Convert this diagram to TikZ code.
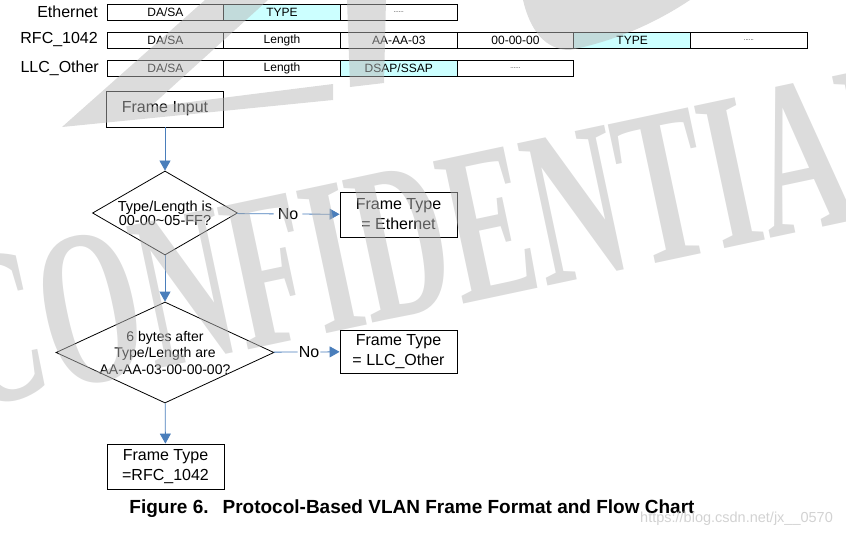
\documentclass[tikz,border=0pt]{standalone}
\usepackage{fontspec}
\setmainfont{Liberation Sans}
\newfontfamily\wmfont{Liberation Serif}
\usepackage{xcolor}
\definecolor{flowblue}{HTML}{4A7EBB}
\definecolor{fieldcyan}{HTML}{CCFFFF}
\definecolor{wmgray}{RGB}{185,185,185}
\definecolor{urlgray}{HTML}{D2D2D2}
\usetikzlibrary{shapes.geometric, arrows.meta, positioning}

\begin{document}
\begin{tikzpicture}[x=1pt, y=-1pt,
  cell/.style={rectangle, draw=black, line width=0.8pt,
    minimum width=116.7pt, minimum height=16pt, inner sep=0pt, outer sep=0pt,
    font=\fontsize{12}{12}\selectfont},
  typecell/.style={cell, fill=fieldcyan},
  rowlabel/.style={anchor=east, inner sep=0pt, font=\fontsize{16}{18}\selectfont},
  flowbox/.style={rectangle, draw=black, line width=0.8pt,
    minimum width=117pt, align=center, inner sep=0pt,
    font=\fontsize{16}{20}\selectfont},
  decision/.style={diamond, draw=black, line width=0.8pt, align=center,
    inner sep=0pt},
  flow/.style={draw=flowblue, line width=0.8pt},
  flowarrow/.style={flow, -{Triangle[length=10pt, width=11pt]}},
  watermark/.style={fill=wmgray, fill opacity=0.5, draw=none},
]
  \useasboundingbox (0,0) rectangle (846,538);

  % Frame formats
  \node[rowlabel] (ethlbl) at (98,12) {Ethernet};
  \node[cell, anchor=west] (eth1) at (107,12) {DA/SA};
  \node[typecell, right=0pt of eth1] (eth2) {TYPE};
  \node[cell, right=0pt of eth2] (eth3) {\fontsize{6}{6}\selectfont ......};

  \node[rowlabel] (rfclbl) at (98,40) {RFC\_1042};
  \node[cell, anchor=west] (rfc1) at (107,40) {DA/SA};
  \node[cell, right=0pt of rfc1] (rfc2) {Length};
  \node[cell, right=0pt of rfc2] (rfc3) {AA-AA-03};
  \node[cell, right=0pt of rfc3] (rfc4) {00-00-00};
  \node[typecell, right=0pt of rfc4] (rfc5) {TYPE};
  \node[cell, right=0pt of rfc5] (rfc6) {\fontsize{6}{6}\selectfont ......};

  \node[rowlabel] (llclbl) at (99,68) {LLC\_Other};
  \node[cell, anchor=west] (llc1) at (107,68) {DA/SA};
  \node[cell, right=0pt of llc1] (llc2) {Length};
  \node[typecell, right=0pt of llc2] (llc3) {DSAP/SSAP};
  \node[cell, right=0pt of llc3] (llc4) {\fontsize{6}{6}\selectfont ......};

  % Flow chart
  \node[flowbox, minimum height=36pt] (input) at (165,109) {Frame Input};
  \node[decision, aspect=1.73, minimum width=145pt, minimum height=84pt,
    font=\fontsize{14.5}{14}\selectfont] (lentest)
    at (165,213) {Type/Length is\\00-00\~{}05-FF?};
  \node[inner xsep=4pt, inner ysep=0pt, font=\fontsize{16}{18}\selectfont] (no1)
    at (288,214) {No};
  \node[flowbox, minimum height=45pt] (ethtype) at (398.5,214.5)
    {Frame Type\\= Ethernet};

  \node[decision, aspect=2.16, minimum width=218pt, minimum height=101pt,
    inner xsep=-6pt, font=\fontsize{14}{16.5}\selectfont] (snaptest)
    at (165,352.5) {6 bytes after\\Type/Length are\\AA-AA-03-00-00-00?};
  \node[inner xsep=1pt, inner ysep=0pt, font=\fontsize{16}{18}\selectfont] (no2)
    at (309,352) {No};
  \node[flowbox, minimum height=43pt] (llctype) at (398.5,351.5)
    {Frame Type\\= LLC\_Other};

  \node[flowbox, minimum height=45pt] (rfctype) at (165.5,466.5)
    {Frame Type\\=RFC\_1042};

  \draw[flowarrow] (input) -- (lentest);
  \draw[flow] (lentest) -- (no1);
  \draw[flowarrow] (no1) -- (ethtype);
  \draw[flowarrow] (lentest) -- (snaptest);
  \draw[flow] (snaptest) -- (no2);
  \draw[flowarrow] (no2) -- (llctype);
  \draw[flowarrow] (snaptest) -- (rfctype);

  % Caption
  \node[font=\bfseries\fontsize{19}{20}\selectfont] (caption) at (412,509)
    {Figure 6.\hspace{14pt}Protocol-Based VLAN Frame Format and Flow Chart};
  \node[anchor=west, inner sep=0pt, text=urlgray, font=\fontsize{14.5}{14}\selectfont]
    (url) at (640,519) {https://blog.csdn.net/jx\_\_0570};

  % Watermark
  \fill[watermark] (62,127) -- (205,0) -- (268,0) -- (150,107)
    -- (333,84) -- (333,100) -- cycle;
  \fill[watermark] (347,0) -- (386,0) -- (384,83) -- (350,87) -- cycle;
  \fill[watermark] (523,0) .. controls (530,30) and (545,50) .. (570,50)
    .. controls (620,40) and (660,20) .. (690,0) -- cycle;
  \node[rotate=12, anchor=base west, inner sep=0pt, text=wmgray,
    text opacity=0.5, font=\wmfont\bfseries\fontsize{222}{222}\selectfont] (wm)
    at (-35,410) {\scalebox{0.58}[1]{CONFIDENTIAL}};
\end{tikzpicture}
\end{document}
